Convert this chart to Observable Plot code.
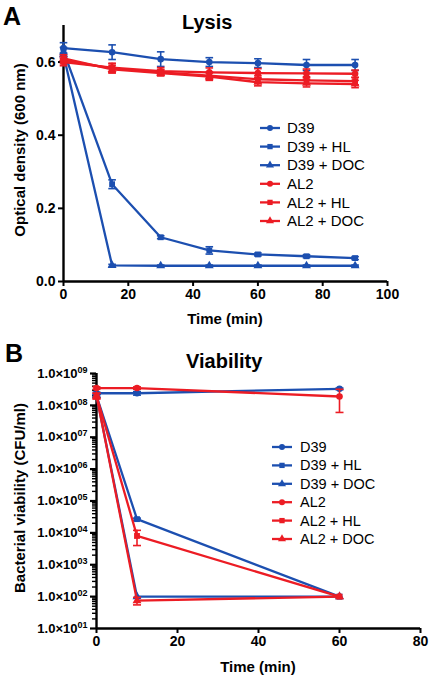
<!DOCTYPE html>
<html><head><meta charset="utf-8">
<script src="https://cdn.jsdelivr.net/npm/d3@7"></script>
<script src="https://cdn.jsdelivr.net/npm/@observablehq/plot@0.6"></script>
<style>
body{margin:0;background:#fff;}
#wrap{position:relative;width:430px;height:678px;font-family:"Liberation Sans",Arial,sans-serif;color:#000;overflow:hidden;background:#fff}
.abs{position:absolute;white-space:nowrap;line-height:1}
.panel{position:absolute;left:0}
svg text{font-family:"Liberation Sans",Arial,sans-serif}
g[aria-label$="tick label"] text{font-weight:bold}
</style></head><body><div id="wrap"></div>
<script>
// ---------- data ----------
const seriesNames = ["D39", "D39 + HL", "D39 + DOC", "AL2", "AL2 + HL", "AL2 + DOC"];

// Panel A: Lysis (OD600)
const lysisTime = [0, 15, 30, 45, 60, 75, 90];
const lysisD39      = [0.638, 0.627, 0.608, 0.600, 0.597, 0.592, 0.592];
const lysisD39Err   = [0.015, 0.020, 0.020, 0.012, 0.012, 0.015, 0.015];
const lysisD39HL    = [0.630, 0.266, 0.121, 0.085, 0.074, 0.069, 0.064];
const lysisD39HLErr = [0.010, 0.012, 0.004, 0.010, 0.004, 0.004, 0.004];
const lysisD39DOC   = [0.620, 0.044, 0.043, 0.043, 0.043, 0.043, 0.043];
const lysisD39DOCErr= [0.005, 0.003, 0.002, 0.002, 0.002, 0.002, 0.002];
const lysisAL2      = [0.600, 0.585, 0.575, 0.572, 0.570, 0.569, 0.568];
const lysisAL2Err   = [0.010, 0.012, 0.010, 0.012, 0.012, 0.012, 0.010];
const lysisAL2HL    = [0.605, 0.583, 0.572, 0.563, 0.553, 0.550, 0.548];
const lysisAL2HLErr = [0.010, 0.012, 0.008, 0.010, 0.010, 0.010, 0.010];
const lysisAL2DOC   = [0.610, 0.580, 0.570, 0.560, 0.545, 0.542, 0.540];
const lysisAL2DOCErr= [0.010, 0.010, 0.008, 0.010, 0.010, 0.010, 0.010];

// Panel B: Viability (CFU/ml)
const viaTime = [0, 10, 60];
const viaD39       = [2.4e8, 2.4e8, 3.3e8];
const viaD39Err    = [0.2e8, 0.3e8, 0.2e8];
const viaD39HL     = [2.0e8, 2.7e4, 1.0e2];
const viaD39HLErr  = [0.2e8, 0.2e4, 0];
const viaD39DOC    = [2.0e8, 1.0e2, 1.0e2];
const viaD39DOCErr = [0.2e8, 0, 0];
const viaAL2       = [3.5e8, 3.5e8, 1.9e8];
const viaAL2Err    = [0.3e8, 0.3e8, 1.3e8];
const viaAL2HL     = [2.0e8, 8.0e3, 1.0e2];
const viaAL2HLErr  = [0.4e8, 4.0e3, 0];
const viaAL2DOC    = [2.0e8, 7.5e1, 1.0e2];
const viaAL2DOCErr = [0.4e8, 2.0e1, 0];

// tick labels
const lysisXTicks = [0, 20, 40, 60, 80, 100];
const lysisYTicks = [0, 0.2, 0.4, 0.6];
const viaXTicks = [0, 20, 40, 60, 80];
const viaYTicks = [1e1, 1e2, 1e3, 1e4, 1e5, 1e6, 1e7, 1e8, 1e9];

// ---------- styles ----------
const BLUE = "#1c4fb0", RED = "#ec1c24";
const seriesColor = [BLUE, BLUE, BLUE, RED, RED, RED];
const seriesSymbol = ["circle", "square", "triangle", "circle", "square", "triangle"];

function rowsOf(time, vals, errs, name) {
  return time.map((t, i) => ({series: name, t, v: vals[i], e: errs[i]}));
}
const lysisSeries = [
  rowsOf(lysisTime, lysisD39, lysisD39Err, seriesNames[0]),
  rowsOf(lysisTime, lysisD39HL, lysisD39HLErr, seriesNames[1]),
  rowsOf(lysisTime, lysisD39DOC, lysisD39DOCErr, seriesNames[2]),
  rowsOf(lysisTime, lysisAL2, lysisAL2Err, seriesNames[3]),
  rowsOf(lysisTime, lysisAL2HL, lysisAL2HLErr, seriesNames[4]),
  rowsOf(lysisTime, lysisAL2DOC, lysisAL2DOCErr, seriesNames[5])
];
const viaSeries = [
  rowsOf(viaTime, viaD39, viaD39Err, seriesNames[0]),
  rowsOf(viaTime, viaD39HL, viaD39HLErr, seriesNames[1]),
  rowsOf(viaTime, viaD39DOC, viaD39DOCErr, seriesNames[2]),
  rowsOf(viaTime, viaAL2, viaAL2Err, seriesNames[3]),
  rowsOf(viaTime, viaAL2HL, viaAL2HLErr, seriesNames[4]),
  rowsOf(viaTime, viaAL2DOC, viaAL2DOCErr, seriesNames[5])
];

const capSymbol = {draw(ctx, size) { const w = Math.sqrt(size / Math.PI); ctx.moveTo(-w, 0); ctx.lineTo(w, 0); }};

function seriesMarks(series, capR) {
  const marks = [];
  series.forEach((rows, i) => {
    const c = seriesColor[i];
    const er = rows.filter(d => d.e > 0);
    marks.push(
      Plot.ruleX(er, {x: "t", y1: d => d.v - d.e, y2: d => d.v + d.e, stroke: c, strokeWidth: 1.6}),
      Plot.dot(er, {x: "t", y: d => d.v - d.e, symbol: capSymbol, r: capR, stroke: c, strokeWidth: 1.6, fill: "none"}),
      Plot.dot(er, {x: "t", y: d => d.v + d.e, symbol: capSymbol, r: capR, stroke: c, strokeWidth: 1.6, fill: "none"}),
      Plot.line(rows, {x: "t", y: "v", stroke: c, strokeWidth: 2.3}),
      Plot.dot(rows, {x: "t", y: "v", symbol: seriesSymbol[i], r: 3.3, fill: c, stroke: "none"})
    );
  });
  return marks;
}

const wrap = document.getElementById("wrap");
function addText(txt, style) {
  const d = document.createElement("div");
  d.className = "abs"; d.textContent = txt;
  Object.assign(d.style, style);
  wrap.appendChild(d);
  return d;
}

// ---------- Panel A ----------
const plotA = Plot.plot({
  width: 430, height: 330,
  marginTop: 25, marginBottom: 49, marginLeft: 63, marginRight: 43,
  style: {background: "transparent", overflow: "visible"},
  x: {domain: [0, 100]},
  y: {domain: [0, 0.7]},
  marks: [
    Plot.axisX(lysisXTicks, {tickSize: 5, strokeWidth: 2, tickPadding: 3, fontSize: 14, label: null}),
    Plot.axisY(lysisYTicks, {tickSize: 5, strokeWidth: 2, tickPadding: 3, fontSize: 14, label: null, tickFormat: d => d.toFixed(1)}),
    Plot.ruleX([0], {strokeWidth: 2.4}),
    Plot.ruleY([0], {strokeWidth: 2.4}),
    ...seriesMarks(lysisSeries, 3.8)
  ]
});
plotA.classList.add("panel");
plotA.style.top = "0px";
wrap.appendChild(plotA);

// ---------- Panel B ----------
const minorTicks = [];
for (let k = 1; k < 9; k++) for (let m = 2; m <= 9; m++) minorTicks.push(m * Math.pow(10, k));

const plotB = Plot.plot({
  width: 430, height: 348,
  marginTop: 43, marginBottom: 50, marginLeft: 96, marginRight: 10,
  style: {background: "transparent", overflow: "visible"},
  x: {domain: [0, 80]},
  y: {type: "log", domain: [1e1, 1e9]},
  marks: [
    Plot.axisX(viaXTicks, {tickSize: 5, strokeWidth: 2, tickPadding: 3, fontSize: 14, label: null}),
    Plot.axisY(minorTicks, {tickSize: 4, strokeWidth: 1.4, tickFormat: () => "", label: null}),
    Plot.axisY(viaYTicks, {tickSize: 6, strokeWidth: 2.2, tickPadding: 3, fontSize: 13, label: null,
      tickFormat: d => "1.0×10|" + String(Math.round(Math.log10(d))).padStart(2, "0")}),
    Plot.ruleX([0], {strokeWidth: 2.4}),
    Plot.ruleY([1e1], {strokeWidth: 2.4}),
    ...seriesMarks(viaSeries, 4)
  ]
});
plotB.classList.add("panel");
plotB.style.top = "330px";
wrap.appendChild(plotB);

// superscript exponents
plotB.querySelectorAll('g[aria-label="y-axis tick label"] text').forEach(t => {
  const s = t.textContent;
  if (!s.includes("|")) return;
  const [base, exp] = s.split("|");
  while (t.firstChild) t.removeChild(t.firstChild);
  const NS = "http://www.w3.org/2000/svg";
  const a = document.createElementNS(NS, "tspan"); a.textContent = base;
  const b = document.createElementNS(NS, "tspan"); b.textContent = exp;
  b.setAttribute("font-size", "9"); b.setAttribute("dy", "-5");
  t.appendChild(a); t.appendChild(b);
});

// ---------- titles & labels ----------
addText("A", {left: "3px", top: "4px", fontSize: "25px", fontWeight: "bold"});
addText("Lysis", {left: "182px", top: "12px", fontSize: "20px", fontWeight: "bold"});
addText("Time (min)", {left: "225px", top: "311px", fontSize: "15px", fontWeight: "bold", transform: "translateX(-50%)"});
addText("Optical density (600 nm)", {left: "19px", top: "150px", fontSize: "15px", fontWeight: "bold", transform: "translate(-50%,-50%) rotate(-90deg)"});

addText("B", {left: "5px", top: "341px", fontSize: "25px", fontWeight: "bold"});
addText("Viability", {left: "186px", top: "351px", fontSize: "20px", fontWeight: "bold"});
addText("Time (min)", {left: "258px", top: "659px", fontSize: "15px", fontWeight: "bold", transform: "translateX(-50%)"});
addText("Bacterial viability (CFU/ml)", {left: "19px", top: "498px", fontSize: "15px", fontWeight: "bold", transform: "translate(-50%,-50%) rotate(-90deg)"});

// ---------- legends ----------
function legend(x0, y0, dy, lineLen, textGap, fontSize) {
  const svg = d3.select(wrap).append("svg")
    .attr("width", 430).attr("height", 678)
    .style("position", "absolute").style("left", 0).style("top", 0).style("pointer-events", "none");
  seriesNames.forEach((name, i) => {
    const y = y0 + i * dy;
    const g = svg.append("g");
    g.append("line").attr("x1", x0).attr("x2", x0 + lineLen).attr("y1", y).attr("y2", y)
      .attr("stroke", seriesColor[i]).attr("stroke-width", 2.3);
    const sym = {circle: d3.symbolCircle, square: d3.symbolSquare, triangle: d3.symbolTriangle}[seriesSymbol[i]];
    g.append("path").attr("d", d3.symbol(sym, Math.PI * 3 * 3)())
      .attr("transform", `translate(${x0 + lineLen / 2},${y})`).attr("fill", seriesColor[i]);
    g.append("text").attr("x", x0 + lineLen + textGap).attr("y", y).attr("dy", "0.35em")
      .attr("font-size", fontSize).attr("fill", "#000").text(name);
  });
}
legend(260, 128, 18.6, 20, 7, 15);
legend(272, 447, 18.4, 20, 8, 14.5);
</script></body></html>
